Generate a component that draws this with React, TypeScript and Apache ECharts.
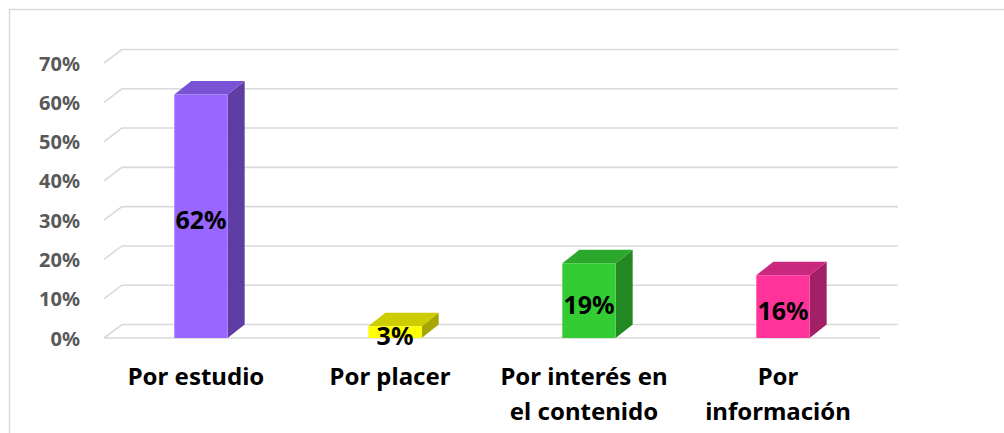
import React, { useEffect, useRef } from "react";
import * as echarts from "echarts";

const categories = ["Por estudio", "Por placer", "Por interés en\nel contenido", "Por\ninformación"];
const values = [0.62, 0.03, 0.19, 0.16];
const valueLabels = ["62%", "3%", "19%", "16%"];
const ticks = [0, 0.1, 0.2, 0.3, 0.4, 0.5, 0.6, 0.7];
const frontColors = ["#9966ff", "#ffff00", "#33cc33", "#ff3399"];
const topColors = ["#7a52d4", "#cccc00", "#2ba82b", "#c9287e"];
const sideColors = ["#5f3ea3", "#a6a600", "#228822", "#a31f66"];

const FONT = "'Noto Sans', 'DejaVu Sans', sans-serif";
const GDX = 18;
const GDY = -13.5;
const BDX = 17;
const BDY = -13.5;

export default function App() {
  const ref = useRef<HTMLDivElement>(null);
  useEffect(() => {
    if (!ref.current) return;
    const chart = echarts.init(ref.current, null, { renderer: "svg" });
    chart.setOption({
      animation: false,
      backgroundColor: "#ffffff",
      grid: { left: 104, right: 124, top: 63, bottom: 95 },
      graphic: [
        {
          type: "rect",
          shape: { x: 9.5, y: 9.5, width: 1200, height: 600 },
          style: { fill: "none", stroke: "#d9d9d9", lineWidth: 1.5 },
          silent: true,
          z: -10,
        },
      ],
      xAxis: {
        type: "category",
        data: categories,
        axisLine: { show: false },
        axisTick: { show: false },
        axisLabel: {
          interval: 0,
          margin: 20,
          lineHeight: 35,
          fontSize: 24,
          fontWeight: "bold",
          fontFamily: FONT,
          color: "#000000",
          padding: [0, 10, 0, 0],
        },
      },
      yAxis: {
        type: "value",
        min: 0,
        max: 0.7,
        interval: 0.1,
        axisLine: { show: false },
        axisTick: { show: false },
        splitLine: { show: false },
        axisLabel: {
          margin: 24,
          fontSize: 20,
          fontWeight: "bold",
          fontFamily: FONT,
          color: "#595959",
          formatter: (v: number) => Math.round(v * 100) + "%",
        },
      },
      series: [
        {
          type: "custom",
          z: 1,
          clip: false,
          silent: true,
          data: ticks.map((t) => [0, t]),
          renderItem: (params: any, api: any) => {
            const cs = params.coordSys;
            const v = api.value(1);
            const y = api.coord([0, v])[1];
            const x0 = cs.x;
            const x1 = cs.x + cs.width;
            const style = { stroke: "#d9d9d9", lineWidth: 1.6, fill: "none" };
            const children: any[] = [
              {
                type: "polyline",
                shape: { points: [[x0, y], [x0 + GDX, y + GDY], [x1 + GDX, y + GDY]] },
                style,
              },
            ];
            if (v === 0) {
              children.push({
                type: "line",
                shape: { x1: x0, y1: y, x2: x1, y2: y },
                style,
              });
            }
            return { type: "group", children };
          },
        },
        {
          type: "custom",
          z: 2,
          clip: false,
          silent: true,
          data: values.map((v, i) => [i, v]),
          renderItem: (params: any, api: any) => {
            const i = params.dataIndex;
            const idx = api.value(0);
            const v = api.value(1);
            const top = api.coord([idx, v]);
            const base = api.coord([idx, 0]);
            const band = api.size([1, 0])[0];
            const w = band * 0.275;
            const cx = top[0];
            const xa = cx - w / 2;
            const xb = cx + w / 2;
            const yT = top[1];
            const y0 = base[1];
            return {
              type: "group",
              children: [
                {
                  type: "polygon",
                  shape: { points: [[xb, yT], [xb + BDX, yT + BDY], [xb + BDX, y0 + BDY], [xb, y0]] },
                  style: { fill: sideColors[i] },
                },
                {
                  type: "polygon",
                  shape: { points: [[xa, yT], [xa + BDX, yT + BDY], [xb + BDX, yT + BDY], [xb, yT]] },
                  style: { fill: topColors[i] },
                },
                {
                  type: "rect",
                  shape: { x: xa, y: yT, width: w, height: y0 - yT },
                  style: { fill: frontColors[i] },
                },
                {
                  type: "text",
                  x: cx,
                  y: (yT + y0) / 2 + 3,
                  style: {
                    text: valueLabels[i],
                    fontSize: 25,
                    fontWeight: "bold",
                    fontFamily: FONT,
                    fill: "#000000",
                    align: "center",
                    verticalAlign: "middle",
                  },
                  z2: 10,
                },
              ],
            };
          },
        },
      ],
    });
    return () => chart.dispose();
  }, []);
  return (
    <div
      ref={ref}
      style={{ position: "fixed", left: 0, top: 0, width: 1004, height: 433 }}
    />
  );
}
